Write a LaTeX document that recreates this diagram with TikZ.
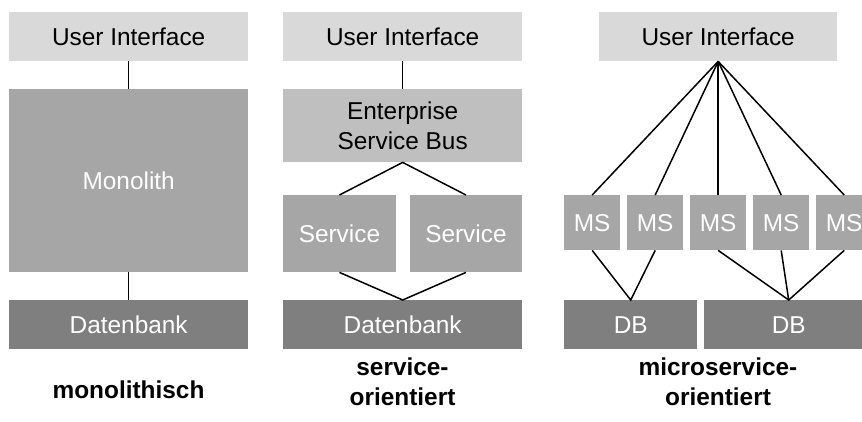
\documentclass[tikz,border=0pt]{standalone}
\usepackage{fontspec}
\setmainfont{Liberation Sans}
\definecolor{uigray}{HTML}{D9D9D9}
\definecolor{busgray}{HTML}{BFBFBF}
\definecolor{appgray}{HTML}{A6A6A6}
\definecolor{dbgray}{HTML}{7F7F7F}
\tikzset{
    box/.style={rectangle,inner sep=0pt,anchor=north west,font=\fontsize{24.4}{30}\selectfont,align=center},
    uibox/.style={box,fill=uigray,minimum width=239,minimum height=49},
    busbox/.style={box,fill=busgray},
    appbox/.style={box,fill=appgray,text=white},
    dbbox/.style={box,fill=dbgray,text=white,minimum height=49},
    caption/.style={anchor=base,font=\fontsize{24.4}{30}\selectfont\bfseries,align=center},
    link/.style={line width=1.5pt}
}
\begin{document}
\begin{tikzpicture}[x=1pt,y=-1pt]
        \useasboundingbox (0,0) rectangle (862,421);
        \clip (0,0) rectangle (862,421);

        % monolithisch
        \node[uibox] (ui1) at (9,12) {User Interface};
        \node[appbox,minimum width=239,minimum height=183] (mono) at (9,89) {Monolith};
        \node[dbbox,minimum width=239] (db1) at (9,300) {Datenbank};
        \draw[link] (ui1.south)--(mono.north) (mono.south)--(db1.north);
        \node[caption] (cap1) at (128.5,398) {monolithisch};

        % service-orientiert
        \node[uibox] (ui2) at (283,12) {User Interface};
        \node[busbox,minimum width=239,minimum height=73] (esb) at (283,89) {Enterprise\\Service Bus};
        \node[appbox,minimum width=112.5,minimum height=77] (srv1) at (283,195) {Service};
        \node[appbox,minimum width=112.5,minimum height=77] (srv2) at (409.5,195) {Service};
        \node[dbbox,minimum width=239] (db2) at (283,300) {Datenbank};
        \draw[link] (ui2.south)--(esb.north);
        \draw[link] (srv1.north)--(esb.south)--(srv2.north);
        \draw[link] (srv1.south)--(db2.north)--(srv2.south);
        \node[caption] (cap2) at (402.5,405) {service-\\orientiert};

        % microservice-orientiert
        \node[uibox,minimum width=238] (ui3) at (599,12) {User Interface};
        \foreach \i in {1,...,5}{
            \node[appbox,minimum width=56,minimum height=55] (ms\i) at (564+63*\i-63,195) {MS};
            \draw[link] (ui3.south)--(ms\i.north);
        }
        \node[dbbox,minimum width=133] (dbA) at (564,300) {DB};
        \node[dbbox,minimum width=169] (dbB) at (704,300) {DB};
        \draw[link] (ms1.south)--(dbA.north)--(ms2.south);
        \draw[link] (ms3.south)--(dbB.north)--(ms5.south) (ms4.south)--(dbB.north);
        \node[caption] (cap3) at (718,405) {microservice-\\orientiert};
\end{tikzpicture}
\end{document}
